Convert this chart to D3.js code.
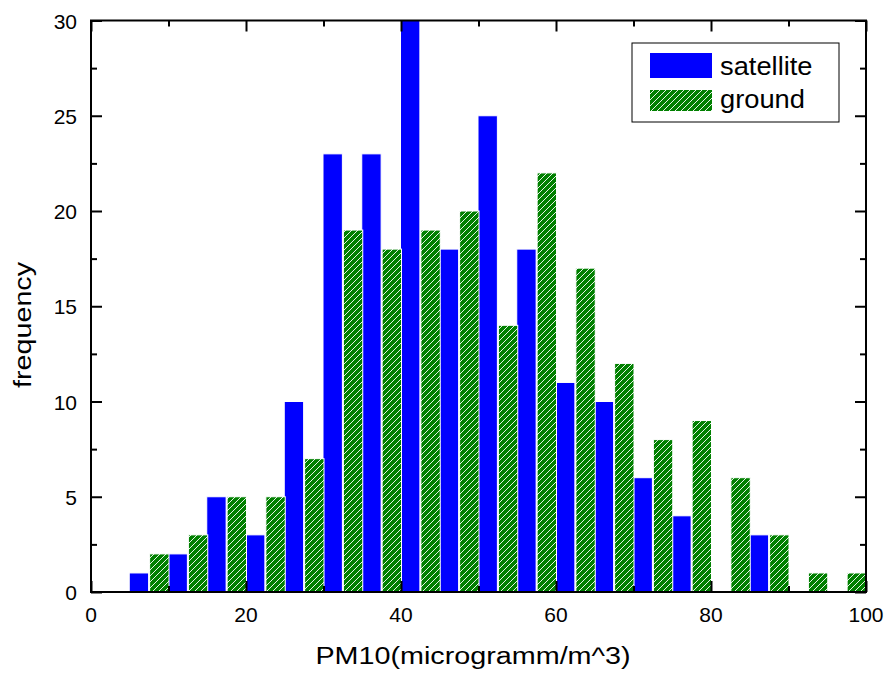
<!DOCTYPE html>
<html>
<head>
<meta charset="utf-8">
<script src="https://cdn.jsdelivr.net/npm/d3@7"></script>
<style>
  html, body { margin: 0; padding: 0; background: #fff; }
  svg { display: block; font-family: "Liberation Sans", Arial, sans-serif; }
</style>
</head>
<body>
<svg id="chart" width="888" height="674"></svg>
<script>
// ---- data ----
const binStarts = [5, 10, 15, 20, 25, 30, 35, 40, 45, 50, 55, 60, 65, 70, 75, 80, 85, 90, 95];
const satellite = [1, 2, 5, 3, 10, 23, 23, 30, 18, 25, 18, 11, 10, 6, 4, 0, 3, 0, 0];
const ground    = [2, 3, 5, 5, 7, 19, 18, 19, 20, 14, 22, 17, 12, 8, 9, 6, 3, 1, 1];
const seriesNames = ["satellite", "ground"];
const xTicks = [0, 20, 40, 60, 80, 100];
const yTicks = [0, 5, 10, 15, 20, 25, 30];
const binWidth = 5;

// ---- layout ----
const svg = d3.select("#chart");
const L = 91, R = 866, T = 20.5, B = 592;
const x = d3.scaleLinear().domain([0, 100]).range([L, R]);
const y = d3.scaleLinear().domain([0, 30]).range([B, T]);

const defs = svg.append("defs");
const pat = defs.append("pattern")
  .attr("id", "hatch").attr("patternUnits", "userSpaceOnUse")
  .attr("width", 6).attr("height", 6);
pat.append("rect").attr("width", 6).attr("height", 6).attr("fill", "#008000");
pat.append("path").attr("d", "M-1,1 L1,-1 M0,6 L6,0 M5,7 L7,5")
  .attr("stroke", "#ffffff").attr("stroke-width", 0.9);

const half = binWidth / 2;
const g = svg.append("g");

// satellite bars
g.selectAll("rect.sat").data(binStarts.map((b, i) => ({b, v: satellite[i]})).filter(d => d.v > 0))
  .enter().append("rect").attr("class", "sat")
  .attr("x", d => x(d.b) - 0.5)
  .attr("width", d => x(d.b + half) - x(d.b))
  .attr("y", d => y(d.v))
  .attr("height", d => y(0) - y(d.v))
  .attr("fill", "#0000ff").attr("stroke", "#ffffff").attr("stroke-width", 1);

// ground bars
g.selectAll("rect.gr").data(binStarts.map((b, i) => ({b, v: ground[i]})).filter(d => d.v > 0))
  .enter().append("rect").attr("class", "gr")
  .attr("x", d => x(d.b + half) + 0.5)
  .attr("width", d => x(d.b + binWidth) - x(d.b + half))
  .attr("y", d => y(d.v))
  .attr("height", d => y(0) - y(d.v))
  .attr("fill", "url(#hatch)").attr("stroke", "#ffffff").attr("stroke-width", 1);

// ---- axes ----
const major = 11, minor = 6;
const xMinor = d3.range(10, 100, 20);
const yMinor = d3.range(2.5, 30, 5);

function tickAxis(axisGen, tr) {
  const a = svg.append("g").attr("transform", tr).call(axisGen);
  a.selectAll("text").remove();
  a.select(".domain").remove();
  a.selectAll("line").attr("stroke", "#000").attr("stroke-width", 2);
  return a;
}
tickAxis(d3.axisBottom(x).tickValues(xTicks).tickSize(-major), `translate(0,${B})`);
tickAxis(d3.axisBottom(x).tickValues(xMinor).tickSize(-minor), `translate(0,${B})`);
tickAxis(d3.axisTop(x).tickValues(xTicks).tickSize(-major), `translate(0,${T})`);
tickAxis(d3.axisTop(x).tickValues(xMinor).tickSize(-minor), `translate(0,${T})`);
tickAxis(d3.axisLeft(y).tickValues(yTicks).tickSize(-major), `translate(${L},0)`);
tickAxis(d3.axisLeft(y).tickValues(yMinor).tickSize(-minor), `translate(${L},0)`);
tickAxis(d3.axisRight(y).tickValues(yTicks).tickSize(-major), `translate(${R},0)`);
tickAxis(d3.axisRight(y).tickValues(yMinor).tickSize(-minor), `translate(${R},0)`);

// frame
svg.append("rect").attr("x", L).attr("y", T).attr("width", R - L).attr("height", B - T)
  .attr("fill", "none").attr("stroke", "#000").attr("stroke-width", 2);

// tick labels
svg.append("g").selectAll("text").data(xTicks).enter().append("text")
  .attr("x", d => x(d)).attr("y", 622)
  .attr("text-anchor", "middle").attr("font-size", 21).attr("fill", "#000")
  .text(d => d);
svg.append("g").selectAll("text").data(yTicks).enter().append("text")
  .attr("x", 77).attr("y", d => y(d) + 8)
  .attr("text-anchor", "end").attr("font-size", 21).attr("fill", "#000")
  .text(d => d);

// axis titles
svg.append("text")
  .attr("transform", `translate(${473},${664}) scale(1.25,1)`)
  .attr("text-anchor", "middle").attr("font-size", 23).attr("fill", "#000")
  .text("PM10(microgramm/m^3)");
svg.append("text")
  .attr("transform", `translate(${31},${325}) rotate(-90) scale(1.25,1)`)
  .attr("text-anchor", "middle").attr("font-size", 23).attr("fill", "#000")
  .text("frequency");

// legend
const lg = svg.append("g");
lg.append("rect").attr("x", 632).attr("y", 43).attr("width", 207).attr("height", 79)
  .attr("fill", "#fff").attr("stroke", "#000").attr("stroke-width", 1);
const fills = ["#0000ff", "url(#hatch)"];
const swY = [53, 90];
seriesNames.forEach((name, i) => {
  lg.append("rect").attr("x", 650).attr("y", swY[i]).attr("width", 62).attr("height", i === 0 ? 25 : 21)
    .attr("fill", fills[i]);
  lg.append("text")
    .attr("transform", `translate(720,${i === 0 ? 75 : 108}) scale(1.05,1)`)
    .attr("font-size", 26).attr("fill", "#000").text(name);
});
</script>
</body>
</html>
